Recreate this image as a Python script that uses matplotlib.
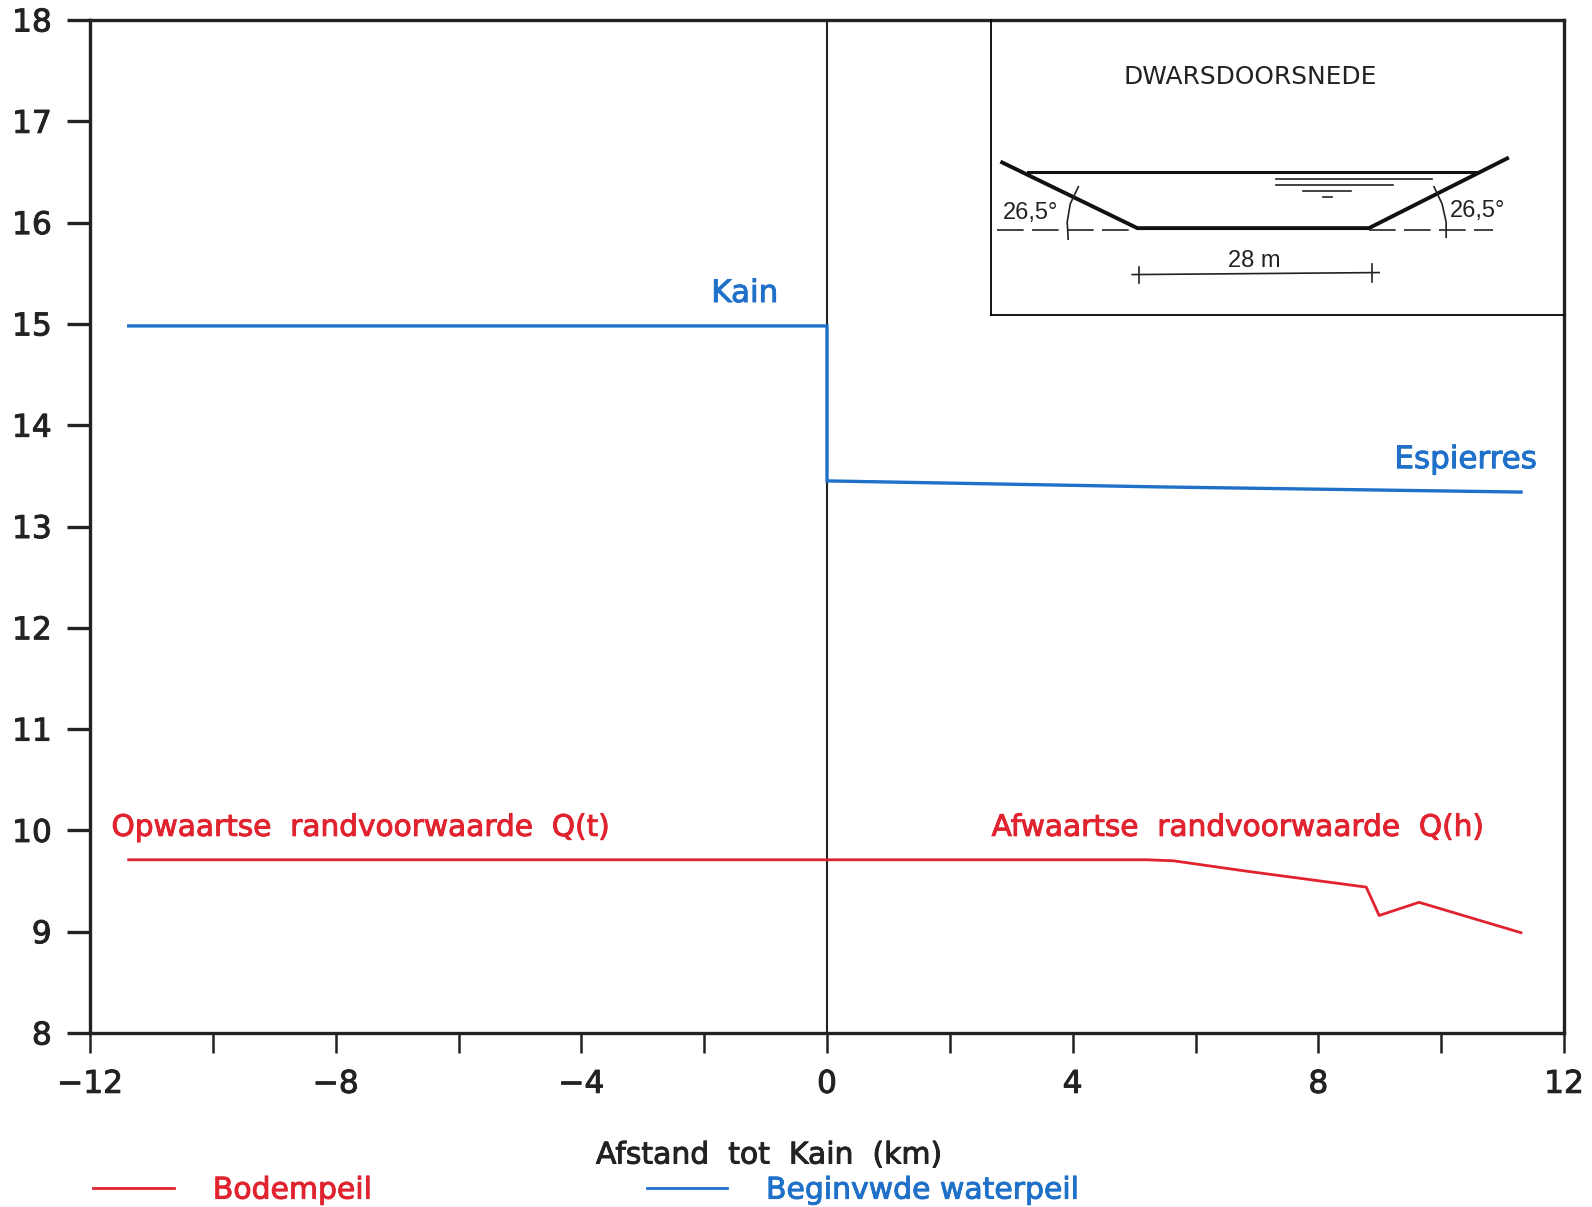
import matplotlib
matplotlib.use('Agg')
import matplotlib.pyplot as plt
import matplotlib.patheffects as pe
from matplotlib.lines import Line2D

W, H = 1592, 1207
red = '#e0232f'
blue = '#1f70c8'
dark = '#222222'

# afstand tot Kain (km), peil (m)
water_x = [-11.37, 0, 0, 5.5, 11.3]
water_y = [14.98, 14.98, 13.45, 13.39, 13.34]
bed_x = [-11.37, 0, 5.2, 5.64, 6.8, 8.78, 8.99, 9.64, 11.3]
bed_y = [9.71, 9.71, 9.71, 9.70, 9.60, 9.44, 9.16, 9.29, 8.99]

x_ticks = list(range(-12, 13, 2))
x_labels = ['\u221212', '', '\u22128', '', '\u22124', '', '0', '', '4', '', '8', '', '12']
y_ticks = list(range(8, 19))

# dwarsdoorsnede, schetscoordinaten
talud_x = [987, 1120, 1348, 1484]
talud_y = [159, 224, 224, 155]
water_line_x = [1012, 1455]
water_line_y = [168, 168]
ripples = [(1257, 1410, 175), (1257, 1372, 181), (1283, 1330, 187), (1303, 1312, 193)]
ref_left = [982, 1120]
ref_right = [1348, 1470]
ref_y = 226
arc_left_x = [1062, 1054, 1051, 1052]
arc_left_y = [183, 200, 218, 235]
arc_right_x = [1412, 1420, 1424, 1424]
arc_right_y = [183, 200, 218, 233]
maat_x = [1115, 1358]
maat_y = [270, 268]


def thicken(t, w=0.7):
    t.set_path_effects([pe.withStroke(linewidth=w, foreground=t.get_color())])


plt.rcParams['font.family'] = 'DejaVu Sans'
plt.rcParams['font.size'] = 21.5

fig = plt.figure(figsize=(W / 100, H / 100), dpi=100)
ax = fig.add_axes([90 / W, 1 - 1033 / H, (1564 - 90) / W, (1033 - 20) / H])

ax.plot(water_x, water_y, c=blue, lw=2.4, solid_joinstyle='miter')
ax.plot(bed_x, bed_y, c=red, lw=2)
ax.axvline(0, c=dark, lw=1.5, zorder=1)

ax.set_xlim(-12, 12)
ax.set_ylim(8, 18)
ax.set_xticks(x_ticks)
ax.set_xticklabels(x_labels)
ax.set_yticks(y_ticks)
ax.tick_params(axis='x', length=14.5, width=1.8, pad=12, colors=dark, labelsize=22.5)
ax.tick_params(axis='y', length=16.5, width=2.4, pad=11, colors=dark, labelsize=22.5)
for s in ax.spines.values():
    s.set_linewidth(2.4)
    s.set_color(dark)
for t in ax.get_xticklabels() + ax.get_yticklabels():
    thicken(t)

ax.set_xlabel('Afstand  tot  Kain  (km)', color=dark)
ax.xaxis.set_label_coords((757 - 88) / (1540 - 88), -0.1205)
ax.xaxis.label.set_verticalalignment('center')
thicken(ax.xaxis.label)

labels = [ax.text(-1.34, 15.3, 'Kain', color=blue, ha='center', va='center', fontsize=22.3),
          ax.text(10.4, 13.66, 'Espierres', color=blue, ha='center', va='center', fontsize=22.3),
          ax.text(-11.65, 10.03, 'Opwaartse  randvoorwaarde  Q(t)', color=red, ha='left', va='center', fontsize=21.3),
          ax.text(2.68, 10.03, 'Afwaartse  randvoorwaarde  Q(h)', color=red, ha='left', va='center', fontsize=21.3)]
for t in labels:
    thicken(t)

handles = [Line2D([], [], c=red, lw=2, label='Bodempeil'),
           Line2D([], [], c=blue, lw=2, label='Beginvwde waterpeil')]
leg = fig.legend(handles=handles, ncol=2, frameon=False, loc='lower left',
                 bbox_to_anchor=(91 / W, 1 - 1207 / H), borderaxespad=0, borderpad=0.08,
                 handlelength=2.7, handletextpad=1.3, columnspacing=9.2, labelcolor='linecolor')
for t in leg.get_texts():
    thicken(t)

# inzet
ins = fig.add_axes([991 / W, 1 - 315 / H, (1564 - 991) / W, (315 - 20) / H])
ins.set_xlim(976, 1540)
ins.set_ylim(310, 18)
ins.set_xticks([])
ins.set_yticks([])
ins.patch.set_visible(False)
ins.spines['top'].set_visible(False)
ins.spines['right'].set_visible(False)
ins.spines['left'].set_linewidth(1.3)
ins.spines['bottom'].set_linewidth(1.3)

ins.plot(talud_x, talud_y, c='#111111', lw=2.8)
ins.plot(water_line_x, water_line_y, c='#111111', lw=2.2)
for x0, x1, y in ripples:
    ins.plot([x0, x1], [y, y], c='#222222', lw=1.2)
ins.plot(ref_left, [ref_y, ref_y], c='#222222', lw=1.2, dashes=(16, 5))
ins.plot(ref_right, [ref_y, ref_y], c='#222222', lw=1.2, dashes=(16, 5))
ins.plot(arc_left_x, arc_left_y, c='#222222', lw=1.2)
ins.plot(arc_right_x, arc_right_y, c='#222222', lw=1.2)
ins.plot(maat_x, maat_y, c='#222222', lw=1.2)
ins.plot([1122, 1122], [262, 278], c='#222222', lw=1.2)
ins.plot([1351, 1351], [260, 277], c='#222222', lw=1.2)

ins.text(1231, 74, 'DWARSDOORSNEDE', fontsize=17.9, color='#222222', ha='center', va='center')
ins.text(1015, 209, '26,5°', fontsize=17, color='#222222', ha='center', va='center', family='Liberation Sans')
ins.text(1455, 207, '26,5°', fontsize=17, color='#222222', ha='center', va='center', family='Liberation Sans')
ins.text(1235, 257, '28 m', fontsize=17, color='#222222', ha='center', va='center', family='Liberation Sans')

fig.savefig('out.png', dpi=100)
